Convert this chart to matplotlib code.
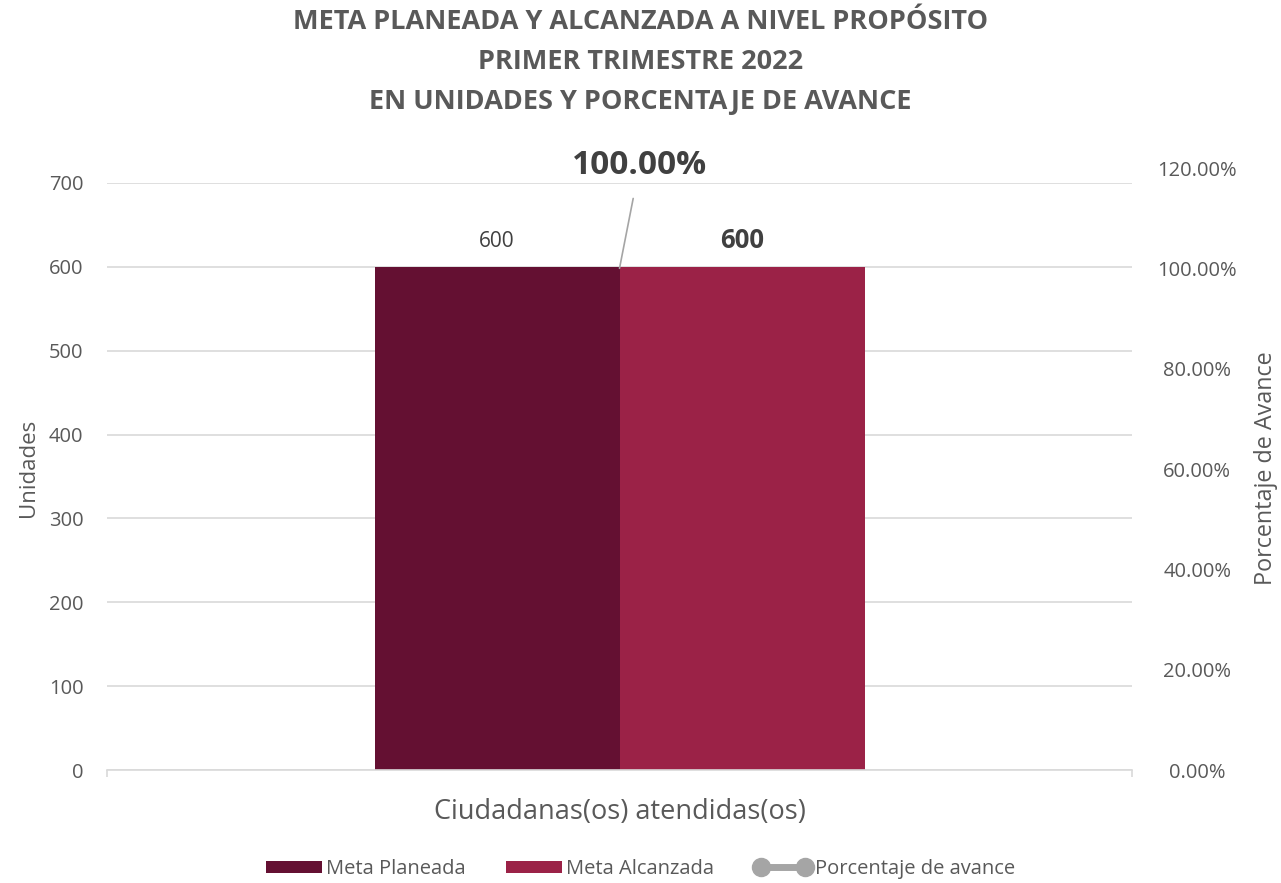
import matplotlib
matplotlib.use("Agg")
import matplotlib.pyplot as plt
from matplotlib.patches import Patch
from matplotlib.lines import Line2D

plt.rcParams['font.family'] = ['Open Sans', 'DejaVu Sans']

categories = ["Ciudadanas(os) atendidas(os)"]
meta_planeada = [600]
meta_alcanzada = [600]
porcentaje = [1.0]
left_ticks = [0, 100, 200, 300, 400, 500, 600, 700]
right_ticks = [0.0, 0.2, 0.4, 0.6, 0.8, 1.0, 1.2]
title_lines = ["META PLANEADA Y ALCANZADA A NIVEL PROPÓSITO",
               "PRIMER TRIMESTRE 2022",
               "EN UNIDADES Y PORCENTAJE DE AVANCE"]

c_dark = "#641032"
c_light = "#9B2247"
c_grey = "#A5A5A5"
c_text = "#595959"
c_grid = "#D9D9D9"

W, H = 1281, 883
fig = plt.figure(figsize=(W / 100, H / 100), dpi=100)

def fx(px):
    return px / W

def fy(py):
    return 1 - py / H

L, R, B, T = 107, 1132, 770, 183
ax = fig.add_axes([fx(L), fy(B), fx(R) - fx(L), fy(T) - fy(B)])
ax.set_xlim(-0.5, 0.5)
ax.set_ylim(0, 700)
bw = 245 / (R - L)
x = list(range(len(categories)))
b1 = ax.bar([xi - bw / 2 for xi in x], meta_planeada, width=bw, color=c_dark, zorder=2)
b2 = ax.bar([xi + bw / 2 for xi in x], meta_alcanzada, width=bw, color=c_light, zorder=2)
ax.set_yticks(left_ticks)
ax.yaxis.grid(True, color=c_grid, linewidth=1.2, zorder=0)
ax.set_axisbelow(True)
for s in ['top', 'right', 'left']:
    ax.spines[s].set_visible(False)
ax.spines['bottom'].set_color(c_grid)
ax.spines['bottom'].set_linewidth(1.2)
ax.tick_params(axis='y', length=0, labelsize=14.5, labelcolor=c_text, pad=17)
ax.set_xticks([-0.5, 0.5])
ax.set_xticklabels(["", ""])
ax.tick_params(axis='x', length=5, color=c_grid, width=1.2)
ax.set_ylabel("Unidades", fontsize=16, color=c_text)
ax.yaxis.label.set_va('center')
ax.yaxis.set_label_coords((28 - L) / (R - L), (B - 468) / (B - T))
ax.text(0, -(812 - B) / (B - T), categories[0], transform=ax.get_xaxis_transform(),
        ha='center', va='center', fontsize=19.5, color=c_text)

for rect, v in zip(b1, meta_planeada):
    ax.annotate(f"{v}", (rect.get_x() + rect.get_width() / 2, v), xytext=(0, 18),
                textcoords='offset points', ha='center', va='center', fontsize=15, color="#404040")
for rect, v in zip(b2, meta_alcanzada):
    ax.annotate(f"{v}", (rect.get_x() + rect.get_width() / 2, v), xytext=(0, 19),
                textcoords='offset points', ha='center', va='center', fontsize=18.5,
                fontweight='bold', color="#404040")

# secondary axis (percent)
ax2 = fig.add_axes([fx(L), fy(B), fx(R) - fx(L), fy(168) - fy(B)])
ax2.patch.set_visible(False)
ax2.set_xlim(-0.5, 0.5)
ax2.set_ylim(0, 1.2)
for s in ax2.spines.values():
    s.set_visible(False)
ax2.set_xticks([])
ax2.yaxis.tick_right()
ax2.set_yticks(right_ticks)
ax2.set_yticklabels([f"{t * 100:.2f}%" for t in right_ticks])
ax2.tick_params(axis='y', length=0, labelsize=14.5, labelcolor=c_text, pad=47)
for lab in ax2.get_yticklabels():
    lab.set_horizontalalignment('center')
ax2.yaxis.set_label_position('right')
ax2.set_ylabel("Porcentaje de Avance", fontsize=16.8, color=c_text)
ax2.yaxis.label.set_va('center')
ax2.yaxis.set_label_coords((1266 - L) / (R - L), (B - 468) / (B - 168))
ax2.plot(x, porcentaje, color=c_grey, linestyle='none', marker='none')
for xi, p in zip(x, porcentaje):
    ax2.annotate(f"{p * 100:.2f}%", (xi, p), xytext=(14.5, 74), textcoords='offset points',
                 ha='center', va='center', fontsize=24, fontweight='bold', color="#404040",
                 arrowprops=dict(arrowstyle='-', color=c_grey, lw=1.2, shrinkA=10, shrinkB=0))

for i, line in enumerate(title_lines):
    fig.text(0.5, fy(22 + 40 * i), line, ha='center', va='center', fontsize=19.5,
             fontweight='bold', color=c_text)

handles = [Patch(facecolor=c_dark), Patch(facecolor=c_light),
           Line2D([0], [0], color=c_grey, lw=5, marker='o', markersize=13)]
fig.legend(handles, ["Meta Planeada", "Meta Alcanzada", "Porcentaje de avance"],
           loc='center', bbox_to_anchor=(0.5, fy(869)), ncol=3, frameon=False,
           fontsize=14.5, labelcolor=c_text, handlelength=2.8, handletextpad=0.2,
           columnspacing=2.0, handleheight=0.6, numpoints=2)

fig.savefig("out.png", dpi=100)
